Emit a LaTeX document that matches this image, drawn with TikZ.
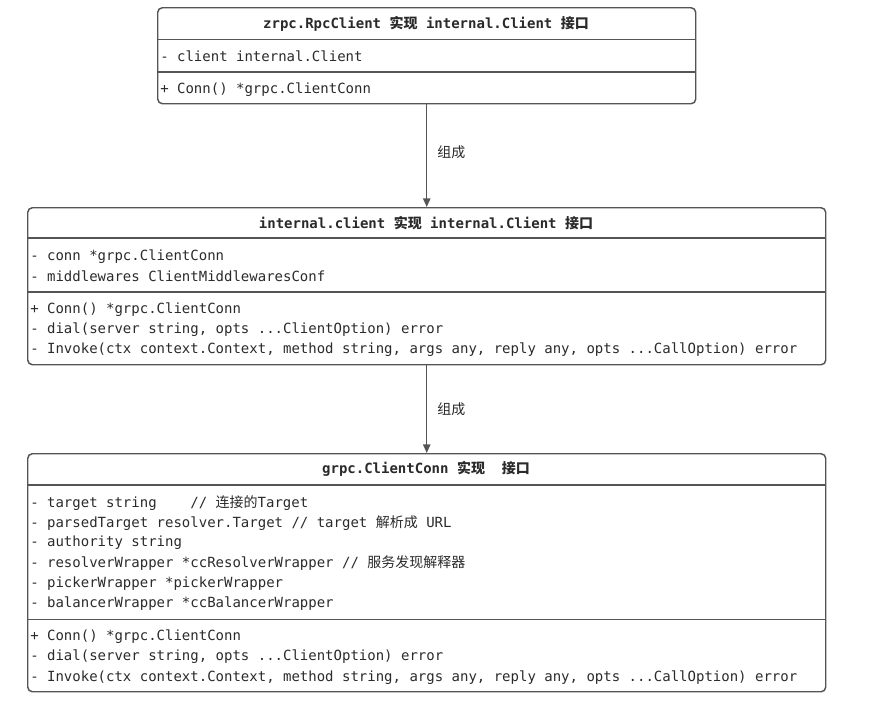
\documentclass[tikz,border=0pt]{standalone}
\usepackage{fontspec}
\setmainfont{DejaVu Sans}
\setmonofont{DejaVu Sans Mono}
\newfontfamily\cjk{Noto Sans CJK SC}
\usetikzlibrary{arrows.meta}
\definecolor{umlline}{HTML}{555555}
\definecolor{umltext}{HTML}{2A2A2A}
\tikzstyle{classbox}=[
	rectangle,
	draw=umlline,
	line width=1.1pt,
	rounded corners=3.5pt,
	anchor=north west,
	inner sep=0pt
]
\tikzstyle{classtitle}=[
	font=\ttfamily\bfseries\fontsize{10.5}{12}\selectfont,
	text=umltext,
	inner sep=0pt,
	yshift=-0.8pt
]
\tikzstyle{member}=[
	font=\ttfamily\fontsize{10.5}{12}\selectfont,
	text=umltext,
	anchor=west,
	inner sep=0pt,
	yshift=-1pt
]
\tikzstyle{divider}=[
	draw=umlline,
	line width=1.1pt
]
\tikzstyle{compose}=[
	-{Triangle[length=6.5pt,width=5.5pt]},
	draw=umlline,
	line width=1.1pt
]
\tikzstyle{relation}=[
	font=\cjk\fontsize{10.5}{12}\selectfont,
	text=umltext,
	anchor=west,
	inner sep=0pt,
	xshift=7.5pt
]

\begin{document}
\begin{tikzpicture}[x=0.75pt,y=-0.75pt]
\useasboundingbox (0,0) rectangle (874,708);
% zrpc.RpcClient
\node [classbox, minimum width=403.5pt, minimum height=72pt] (RpcClient) at (157,7) {};
\node [classtitle] (RpcClientTitle) at (426,23) {zrpc.RpcClient {\cjk\bfseries 实现} internal.Client {\cjk\bfseries 接口}};
\draw [divider] (RpcClient.west |- 0,39.5) -- (RpcClient.east |- 0,39.5);
\draw [divider] (RpcClient.west |- 0,72) -- (RpcClient.east |- 0,72);
\node [member] (RpcClientField) at (160,55) {- client internal.Client};
\node [member] (RpcClientConn) at (160,88) {+ Conn() *grpc.ClientConn};
% internal.client
\node [classbox, minimum width=598.5pt, minimum height=117.75pt] (InternalClient) at (27,207) {};
\node [classtitle] (InternalClientTitle) at (426,222) {internal.client {\cjk\bfseries 实现} internal.Client {\cjk\bfseries 接口}};
\draw [divider] (InternalClient.west |- 0,238) -- (InternalClient.east |- 0,238);
\draw [divider] (InternalClient.west |- 0,292) -- (InternalClient.east |- 0,292);
\node [member] (ICconn) at (30,255) {- conn *grpc.ClientConn};
\node [member] (ICmiddlewares) at (30,275) {- middlewares ClientMiddlewaresConf};
\node [member] (ICConn) at (30,308) {+ Conn() *grpc.ClientConn};
\node [member] (ICdial) at (30,328) {- dial(server string, opts ...ClientOption) error};
\node [member] (ICInvoke) at (30,348.5) {- Invoke(ctx context.Context, method string, args any, reply any, opts ...CallOption) error};
% grpc.ClientConn
\node [classbox, minimum width=598.5pt, minimum height=178.5pt] (ClientConn) at (27,453) {};
\node [classtitle] (ClientConnTitle) at (426,468) {grpc.ClientConn {\cjk\bfseries 实现}~~{\cjk\bfseries 接口}};
\draw [divider] (ClientConn.west |- 0,485) -- (ClientConn.east |- 0,485);
\draw [divider] (ClientConn.west |- 0,619.5) -- (ClientConn.east |- 0,619.5);
\node [member] (CCtarget) at (30,501.5) {- target string~~~~// {\cjk 连接的}Target};
\node [member] (CCparsed) at (30,521.5) {- parsedTarget resolver.Target // target {\cjk 解析成} URL};
\node [member] (CCauthority) at (30,541.5) {- authority string};
\node [member] (CCresolver) at (30,562) {- resolverWrapper *ccResolverWrapper // {\cjk 服务发现解释器}};
\node [member] (CCpicker) at (30,582) {- pickerWrapper *pickerWrapper};
\node [member] (CCbalancer) at (30,602) {- balancerWrapper *ccBalancerWrapper};
\node [member] (CCConn) at (30,635) {+ Conn() *grpc.ClientConn};
\node [member] (CCdial) at (30,655.5) {- dial(server string, opts ...ClientOption) error};
\node [member] (CCInvoke) at (30,676) {- Invoke(ctx context.Context, method string, args any, reply any, opts ...CallOption) error};
% composition
\draw [compose] (RpcClient.south) -- (InternalClient.north)
	node [relation, pos=0.47] (ComposeOne) {组成};
\draw [compose] (InternalClient.south) -- (ClientConn.north)
	node [relation, pos=0.5] (ComposeTwo) {组成};
\end{tikzpicture}
\end{document}
